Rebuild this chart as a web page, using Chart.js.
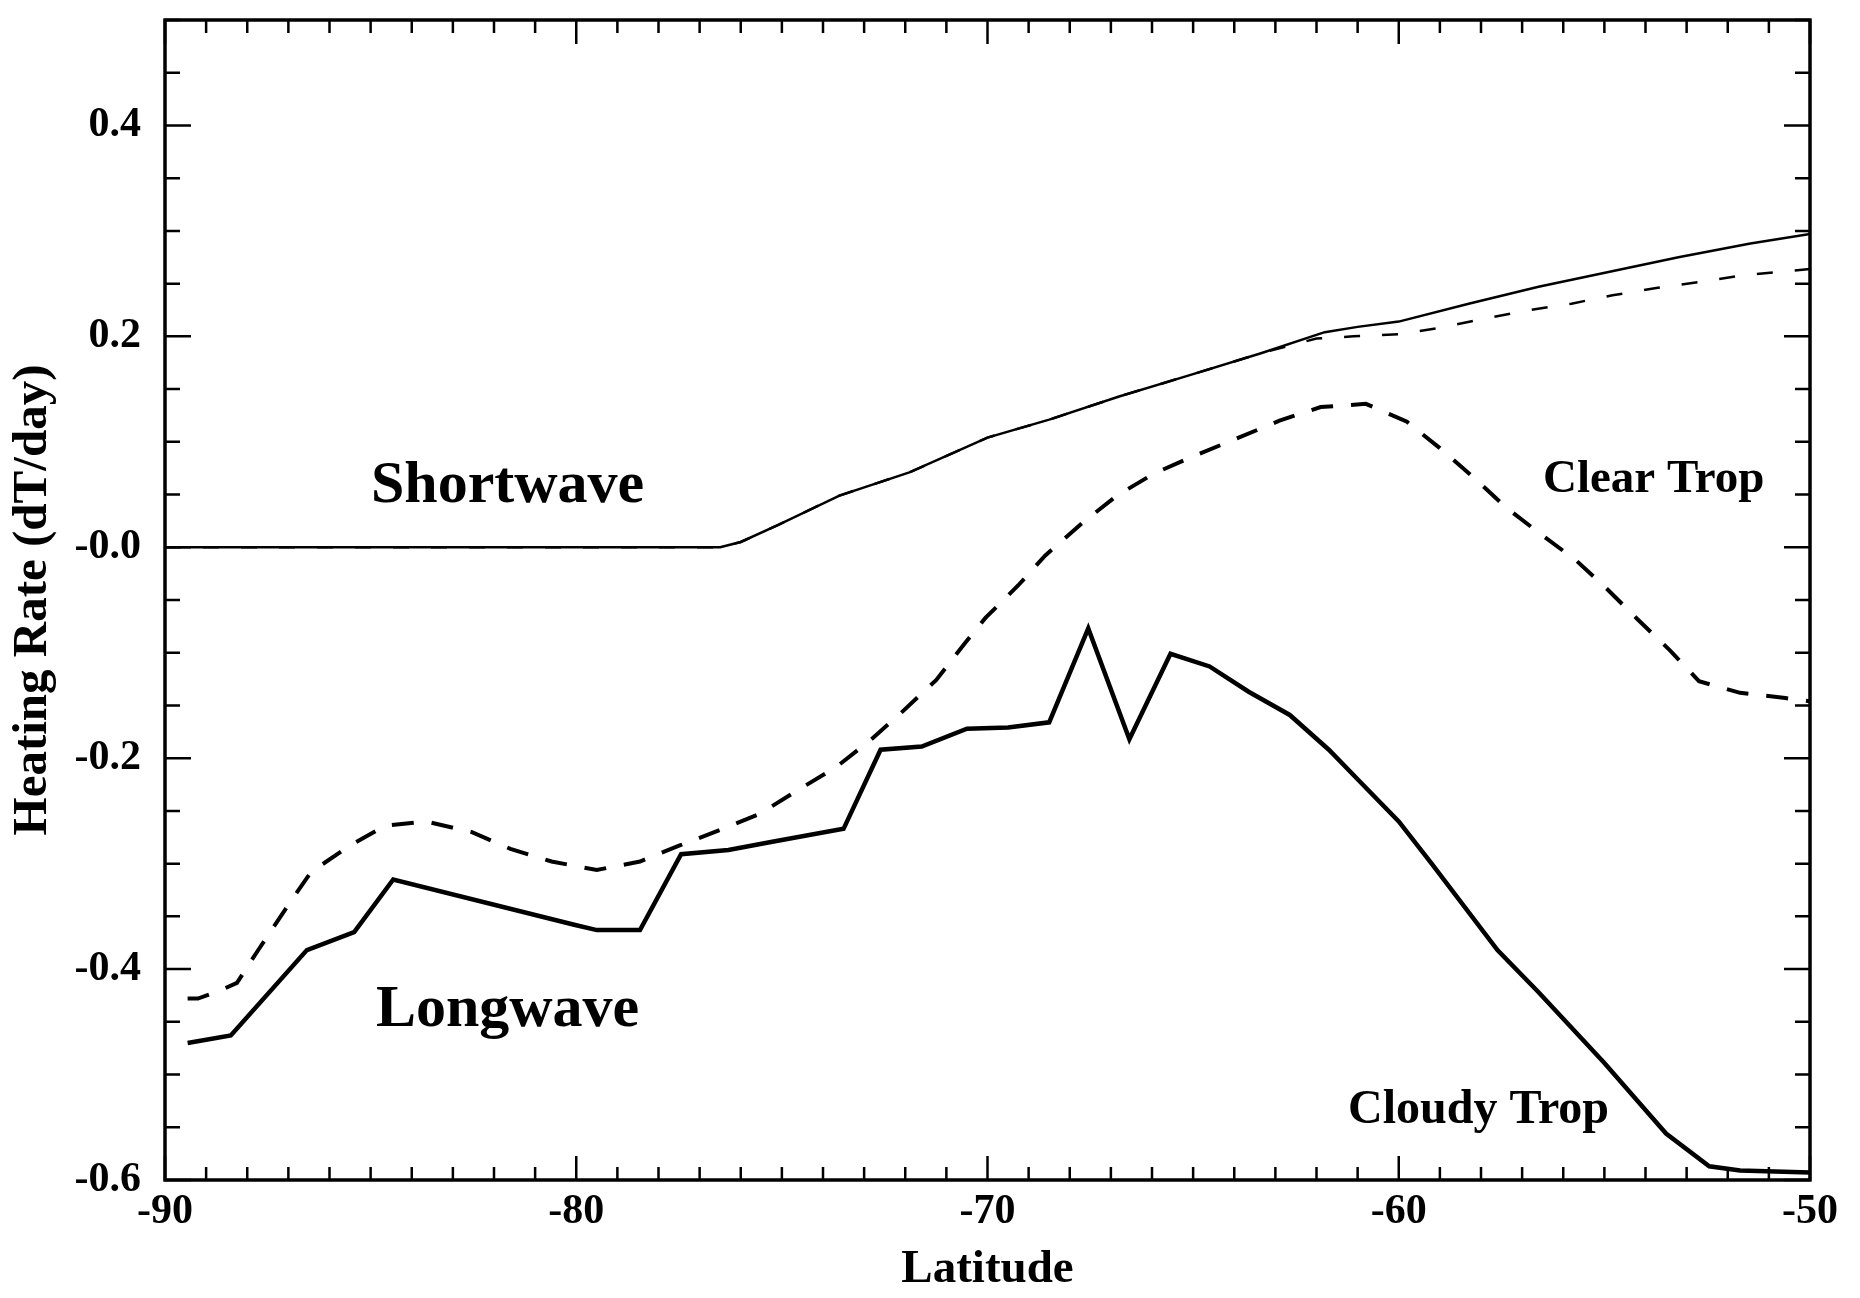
<!DOCTYPE html>
<html>
<head>
<meta charset="utf-8">
<script src="https://cdn.jsdelivr.net/npm/chart.js@4.4.0/dist/chart.umd.min.js"></script>
<style>
    html, body { margin: 0; padding: 0; background: #fff; }
</style>
</head>
<body>
<canvas id="myChart" width="1860" height="1298"></canvas>
<script>
const ctx = document.getElementById("myChart");

// Shortwave heating, cloudy tropopause (solid) and clear tropopause (dashed)
const swCloudyLat = [-90, -76.5, -76.0, -75.1, -73.6, -71.9, -70.0, -68.5, -66.8, -65.1, -63.35, -61.8, -61.0, -60.0, -58.3, -56.6, -54.9, -53.2, -51.45, -50];
const swCloudy = [0, 0, 0.005, 0.021, 0.049, 0.071, 0.104, 0.121, 0.143, 0.163, 0.184, 0.204, 0.209, 0.214, 0.231, 0.247, 0.261, 0.275, 0.288, 0.297];

const swClearLat = [-90, -76.5, -76.0, -75.1, -73.6, -71.9, -70.0, -68.5, -66.8, -65.1, -63.35, -62.0, -61.1, -60.0, -59.0, -57.9, -56.8, -55.8, -54.8, -53.7, -52.6, -51.6, -50.5, -50];
const swClear = [0, 0, 0.005, 0.021, 0.049, 0.071, 0.104, 0.121, 0.143, 0.163, 0.184, 0.198, 0.200, 0.202, 0.208, 0.217, 0.225, 0.231, 0.239, 0.246, 0.252, 0.258, 0.262, 0.264];

// Longwave heating, cloudy tropopause (solid) and clear tropopause (dashed)
const lwCloudyLat = [-89.45, -88.4, -86.55, -85.4, -84.45, -80.05, -79.5, -78.45, -77.45, -76.3, -75.2, -73.5, -72.6, -71.6, -70.5, -69.5, -68.5, -67.55, -66.55, -65.55, -64.6, -63.65, -62.65, -61.7, -60.9, -60.0, -59.2, -57.6, -56.6, -55.0, -53.5, -52.45, -51.7, -50];
const lwCloudy = [-0.470, -0.463, -0.382, -0.365, -0.315, -0.358, -0.363, -0.363, -0.291, -0.287, -0.279, -0.267, -0.192, -0.189, -0.172, -0.171, -0.166, -0.077, -0.182, -0.101, -0.113, -0.137, -0.159, -0.192, -0.224, -0.260, -0.300, -0.382, -0.422, -0.489, -0.556, -0.587, -0.591, -0.593];

const lwClearLat = [-89.45, -89.2, -88.7, -88.25, -87.7, -87.0, -86.45, -85.55, -84.65, -83.65, -82.55, -81.6, -80.6, -79.5, -78.45, -77.5, -76.5, -75.55, -74.6, -73.7, -72.85, -72.1, -71.25, -70.55, -70.05, -69.25, -68.6, -67.7, -66.85, -65.95, -64.95, -63.95, -62.9, -61.9, -60.8, -59.8, -59.0, -58.2, -57.4, -56.5, -55.7, -54.95, -54.2, -53.4, -52.7, -51.7, -50.6, -50];
const lwClear = [-0.428, -0.428, -0.421, -0.413, -0.380, -0.339, -0.308, -0.284, -0.264, -0.260, -0.270, -0.286, -0.298, -0.306, -0.298, -0.283, -0.268, -0.253, -0.230, -0.209, -0.183, -0.157, -0.126, -0.091, -0.067, -0.036, -0.008, 0.023, 0.049, 0.070, 0.087, 0.103, 0.120, 0.133, 0.136, 0.119, 0.094, 0.067, 0.038, 0.011, -0.012, -0.039, -0.068, -0.098, -0.127, -0.138, -0.143, -0.146];

// Axis ticks
const xTickValues = [-90, -80, -70, -60, -50];
const xTickLabels = ["-90", "-80", "-70", "-60", "-50"];
const yTickValues = [-0.6, -0.4, -0.2, 0, 0.2, 0.4];
const yTickLabels = ["-0.6", "-0.4", "-0.2", "-0.0", "0.2", "0.4"];

// Labels written inside the plot, anchored in data units
const plotNotes = [
    { text: "Shortwave", lat: -81.67, value: 0.058, size: 60 },
    { text: "Longwave", lat: -81.67, value: -0.439, size: 60 },
    { text: "Clear Trop", lat: -53.8, value: 0.064, size: 47 },
    { text: "Cloudy Trop", lat: -58.06, value: -0.534, size: 48 }
];

const SERIF = "'Liberation Serif', 'Times New Roman', serif";

function toPoints(lats, values) {
    return lats.map((lat, i) => ({ x: lat, y: values[i] }));
}

// IDL-style frame: box on all four sides with inward major/minor ticks
const frameTicks = {
    id: "frameTicks",
    afterDraw(chart) {
        const { ctx, chartArea: a, scales: { x, y } } = chart;
        ctx.save();
        ctx.strokeStyle = "#000";
        ctx.lineWidth = 2.5;
        ctx.beginPath();
        for (let lat = -90; lat <= -50; lat += 1) {
            const px = x.getPixelForValue(lat);
            const len = lat % 10 === 0 ? 24 : 13;
            ctx.moveTo(px, a.bottom);
            ctx.lineTo(px, a.bottom - len);
            ctx.moveTo(px, a.top);
            ctx.lineTo(px, a.top + len);
        }
        for (let i = 0; i <= 22; i++) {
            const py = y.getPixelForValue(-0.6 + i * 0.05);
            const len = i % 4 === 0 ? 26 : 15;
            ctx.moveTo(a.left, py);
            ctx.lineTo(a.left + len, py);
            ctx.moveTo(a.right, py);
            ctx.lineTo(a.right - len, py);
        }
        ctx.stroke();

        ctx.lineWidth = 3.5;
        ctx.strokeRect(a.left, a.top, a.right - a.left, a.bottom - a.top);

        ctx.fillStyle = "#000";
        ctx.textAlign = "center";
        ctx.textBaseline = "middle";
        plotNotes.forEach(note => {
            ctx.font = `bold ${note.size}px ${SERIF}`;
            ctx.fillText(note.text, x.getPixelForValue(note.lat), y.getPixelForValue(note.value));
        });
        ctx.restore();
    }
};

const chart = new Chart(ctx, {
    type: "line",
    data: {
        datasets: [
            {
                data: toPoints(swCloudyLat, swCloudy),
                borderColor: "#000",
                borderWidth: 2.5
            },
            {
                data: toPoints(swClearLat, swClear),
                borderColor: "#000",
                borderWidth: 2.5,
                borderDash: [16, 22]
            },
            {
                data: toPoints(lwCloudyLat, lwCloudy),
                borderColor: "#000",
                borderWidth: 4.5
            },
            {
                data: toPoints(lwClearLat, lwClear),
                borderColor: "#000",
                borderWidth: 4,
                borderDash: [22, 18]
            }
        ]
    },
    options: {
        responsive: false,
        animation: false,
        layout: { padding: { top: 20, right: 50, left: 0, bottom: 0 } },
        elements: {
            point: { radius: 0 },
            line: { tension: 0, fill: false }
        },
        plugins: {
            legend: { display: false },
            tooltip: { enabled: false }
        },
        scales: {
            x: {
                type: "linear",
                min: -90,
                max: -50,
                grid: { display: false, drawTicks: false },
                border: { display: false },
                afterBuildTicks: scale => {
                    scale.ticks = xTickValues.map(v => ({ value: v }));
                },
                afterFit: scale => {
                    scale.height = 118;
                    scale.paddingLeft = 0;
                    scale.paddingRight = 0;
                },
                ticks: {
                    color: "#000",
                    padding: 7,
                    maxRotation: 0,
                    autoSkip: false,
                    font: { family: SERIF, size: 42, weight: "bold", lineHeight: 1.2 },
                    callback: (value, index) => xTickLabels[index]
                },
                title: {
                    display: true,
                    text: "Latitude",
                    color: "#000",
                    padding: { top: 0, bottom: 0 },
                    font: { family: SERIF, size: 47, weight: "bold", lineHeight: 1.2 }
                }
            },
            y: {
                type: "linear",
                min: -0.6,
                max: 0.5,
                grid: { display: false, drawTicks: false },
                border: { display: false },
                afterBuildTicks: scale => {
                    scale.ticks = yTickValues.map(v => ({ value: v }));
                },
                afterFit: scale => {
                    scale.width = 165;
                    scale.paddingTop = 0;
                    scale.paddingBottom = 0;
                },
                ticks: {
                    color: "#000",
                    padding: 24,
                    autoSkip: false,
                    font: { family: SERIF, size: 42, weight: "bold", lineHeight: 1.2 },
                    callback: (value, index) => yTickLabels[index]
                },
                title: {
                    display: true,
                    text: "Heating Rate (dT/day)",
                    color: "#000",
                    padding: { top: 4, bottom: 0 },
                    font: { family: SERIF, size: 49, weight: "bold", lineHeight: 1.2 }
                }
            }
        }
    },
    plugins: [frameTicks]
});
</script>
</body>
</html>
